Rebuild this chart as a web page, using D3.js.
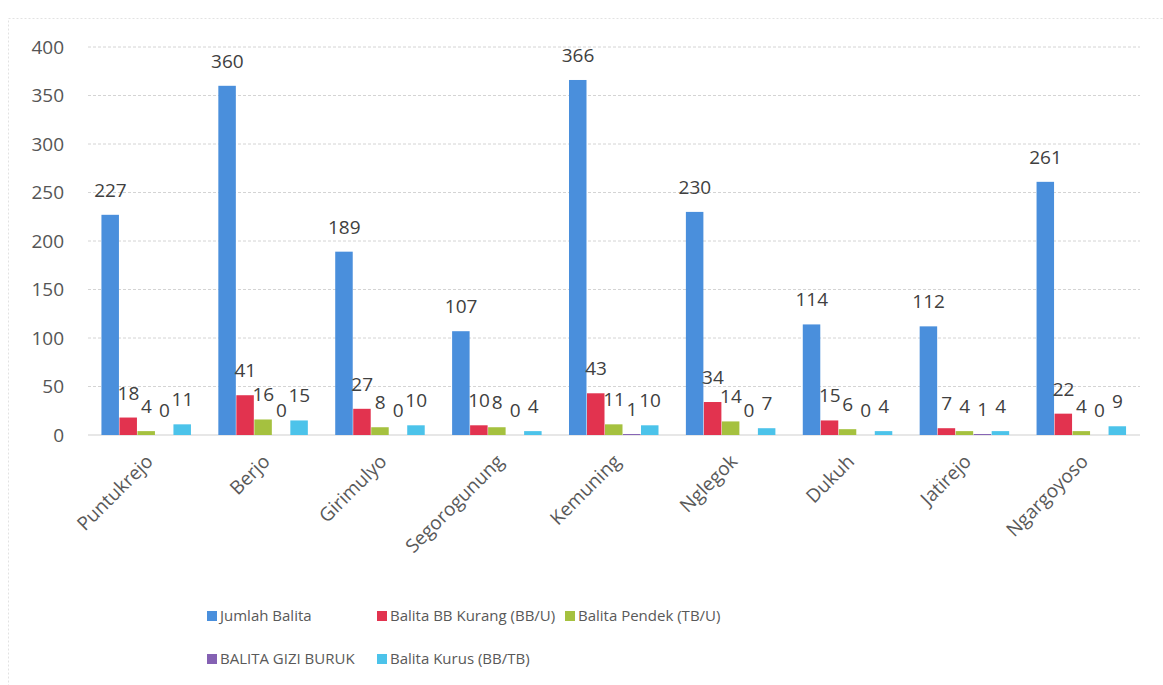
<!DOCTYPE html>
<html><head><meta charset="utf-8">
<script src="https://cdn.jsdelivr.net/npm/d3@7"></script>
<style>body{margin:0;background:#fff}svg{display:block}</style>
</head><body><svg id="c" width="1163" height="685"></svg>
<script>
const categories = ["Puntukrejo","Berjo","Girimulyo","Segorogunung","Kemuning","Nglegok","Dukuh","Jatirejo","Ngargoyoso"];
const seriesNames = ["Jumlah Balita","Balita BB Kurang (BB/U)","Balita Pendek (TB/U)","BALITA GIZI BURUK","Balita Kurus (BB/TB)"];
const jumlahBalita = [227,360,189,107,366,230,114,112,261];
const bbKurang = [18,41,27,10,43,34,15,7,22];
const pendek = [4,16,8,8,11,14,6,4,4];
const giziBuruk = [0,0,0,0,1,0,0,1,0];
const kurus = [11,15,10,4,10,7,4,4,9];
const colors = ["#4a8fdc","#e2334f","#a5c13f","#8461b3","#4cc3ea"];
const yTicks = [0,50,100,150,200,250,300,350,400];
const series = [jumlahBalita,bbKurang,pendek,giziBuruk,kurus];

const font = "'Open Sans', sans-serif";
const svg = d3.select("#c");
svg.append("rect").attr("x",0).attr("y",0).attr("width",1163).attr("height",685).attr("fill","#fff");
svg.append("rect").attr("x",8.5).attr("y",18.5).attr("width",1160).attr("height",680)
  .attr("fill","none").attr("stroke","#e2e2e2").attr("stroke-dasharray","2,2");

const x0 = d3.scaleBand().domain(categories).range([88,1140]).paddingInner(0.23).paddingOuter(0.115);
const x1 = d3.scaleBand().domain(d3.range(series.length)).range([0,x0.bandwidth()]);
const y = d3.scaleLinear().domain([0,400]).range([435,47]);

// gridlines
svg.append("g").selectAll("line").data(yTicks.filter(t=>t>0)).join("line")
  .attr("x1",88).attr("x2",1140).attr("y1",d=>y(d)).attr("y2",d=>y(d))
  .attr("stroke","#d4d4d4").attr("stroke-dasharray","3,2");
svg.append("line").attr("x1",88).attr("x2",1140).attr("y1",y(0)).attr("y2",y(0)).attr("stroke","#cfcfcf");

// y axis
const ya = svg.append("g").attr("transform","translate(64,0)")
  .call(d3.axisLeft(y).tickValues(yTicks).tickSize(0).tickPadding(0));
ya.select(".domain").remove();
ya.selectAll("text").attr("font-family",font).attr("font-size",19).attr("fill","#555");

// bars
const g = svg.append("g");
categories.forEach((c,i)=>{
  series.forEach((s,j)=>{
    const v = s[i];
    const bx = x0(c)+x1(j);
    g.append("rect").attr("x",bx).attr("y",y(v)).attr("width",x1.bandwidth()-0.5)
      .attr("height",y(0)-y(v)).attr("fill",colors[j]);
    g.append("text").attr("x",bx+x1.bandwidth()/2).attr("y",y(v)-18)
      .attr("text-anchor","middle").attr("font-family",font).attr("font-size",19)
      .attr("fill","#404040").text(v);
  });
});

// category labels
const xa = svg.append("g").attr("transform","translate(0,435)")
  .call(d3.axisBottom(x0).tickSize(0).tickPadding(0));
xa.select(".domain").remove();
xa.selectAll("text")
  .attr("font-family",font).attr("font-size",19).attr("fill","#595959")
  .attr("text-anchor","end").attr("dy","0.35em")
  .attr("transform","translate(3,23) rotate(-45)");

// legend
const legendPos = [[207,616],[377,616],[565,616],[207,659],[377,659]];
const lg = svg.append("g");
seriesNames.forEach((n,j)=>{
  const [lx,ly] = legendPos[j];
  lg.append("rect").attr("x",lx).attr("y",ly-5).attr("width",10).attr("height",10).attr("fill",colors[j]);
  lg.append("text").attr("x",lx+13).attr("y",ly).attr("dy","0.35em")
    .attr("font-family",font).attr("font-size",15).attr("fill","#595959").text(n);
});
</script></body></html>
